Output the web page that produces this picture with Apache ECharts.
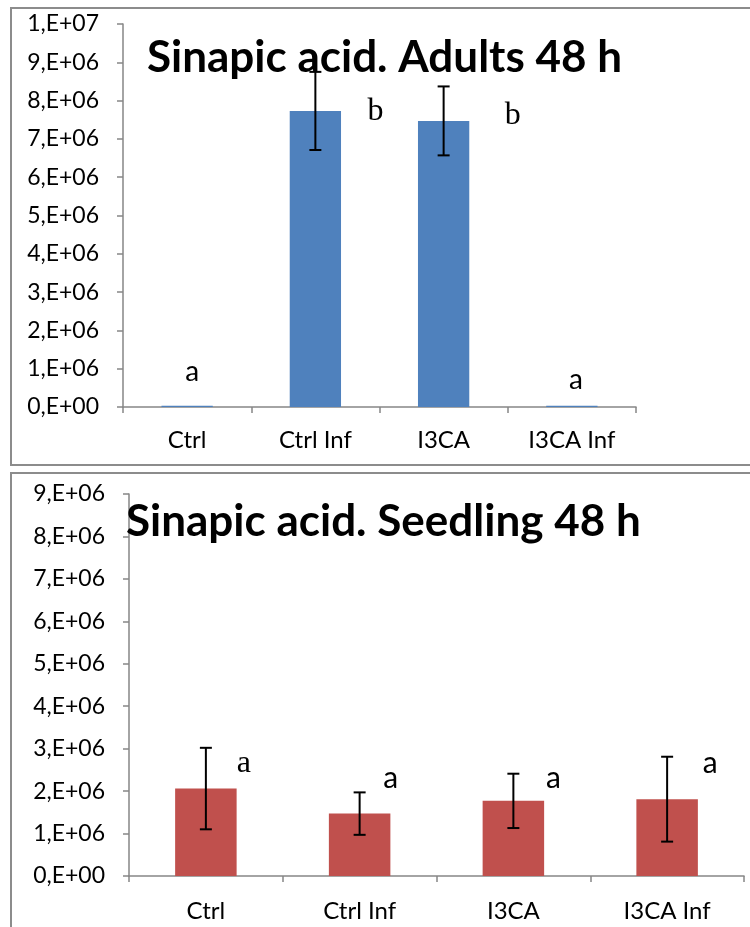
<!DOCTYPE html>
<html>
<head>
<meta charset="utf-8">
<script src="https://cdn.jsdelivr.net/npm/echarts@6/dist/echarts.min.js"></script>
<style>
  html, body { margin: 0; padding: 0; background: #fff; }
  #chart { width: 750px; height: 927px; }
</style>
</head>
<body>
<div id="chart"></div>
<script>
// data
const categories = ['Ctrl', 'Ctrl Inf', 'I3CA', 'I3CA Inf'];

const adultMeans = [30000, 7730000, 7470000, 30000];
const adultErr = [0, 1020000, 900000, 0];
const adultLetters = ['a', 'b', 'b', 'a'];
const adultLetterLevel = [910000, 7700000, 7600000, 700000];

const seedlingMeans = [2060000, 1470000, 1770000, 1810000];
const seedlingErr = [960000, 500000, 640000, 1000000];
const seedlingLetters = ['a', 'a', 'a', 'a'];
const seedlingLetterLevel = [2660000, 2300000, 2300000, 2660000];

const adultTicks = { max: 10000000, step: 1000000 };
const seedlingTicks = { max: 9000000, step: 1000000 };

const axisGray = '#868686';
const sansFont = 'Lato';
const serifFont = 'Liberation Serif';

function sciLabel(v) {
  if (v === 0) return '0,E+00';
  const e = Math.floor(Math.log10(v) + 1e-9);
  const m = Math.round(v / Math.pow(10, e));
  return m + ',E+' + String(e).padStart(2, '0');
}

function errorData(means, errs) {
  return means.map((m, i) => [i, m - errs[i], m + errs[i]]);
}

function letterData(levels) {
  return levels.map((y, i) => [i, y]);
}

function errorBarRender(params, api) {
  const lo = api.coord([api.value(0), api.value(1)]);
  const hi = api.coord([api.value(0), api.value(2)]);
  if (Math.abs(lo[1] - hi[1]) < 1) return null;
  const cap = 6;
  const style = { stroke: '#000', lineWidth: 2 };
  return {
    type: 'group',
    children: [
      { type: 'line', shape: { x1: hi[0], y1: hi[1], x2: lo[0], y2: lo[1] }, style },
      { type: 'line', shape: { x1: hi[0] - cap, y1: hi[1], x2: hi[0] + cap, y2: hi[1] }, style },
      { type: 'line', shape: { x1: lo[0] - cap, y1: lo[1], x2: lo[0] + cap, y2: lo[1] }, style }
    ]
  };
}

function letterRender(letters, dx, fonts, size) {
  return function (params, api) {
    const i = params.dataIndex;
    const p = api.coord([api.value(0), api.value(1)]);
    return {
      type: 'text',
      x: p[0] + dx[i],
      y: p[1],
      style: {
        text: letters[i],
        font: size[i] + 'px "' + fonts[i] + '"',
        fill: '#000',
        align: 'center',
        verticalAlign: 'middle'
      }
    };
  };
}

function yAxisCfg(gridIndex, ticks) {
  return {
    type: 'value',
    gridIndex,
    min: 0,
    max: ticks.max,
    interval: ticks.step,
    splitLine: { show: false },
    axisLine: { show: true, lineStyle: { color: axisGray, width: 1.5 } },
    axisTick: { show: true, length: 6, lineStyle: { color: axisGray, width: 1.5 } },
    axisLabel: {
      formatter: sciLabel,
      color: '#000',
      fontFamily: sansFont,
      fontSize: 23,
      margin: 24
    }
  };
}

function xAxisCfg(gridIndex, margin) {
  return {
    type: 'category',
    gridIndex,
    data: categories,
    axisLine: { show: true, lineStyle: { color: axisGray, width: 1.5 } },
    axisTick: { show: true, length: 6, lineStyle: { color: axisGray, width: 1.5 } },
    axisLabel: {
      color: '#000',
      fontFamily: sansFont,
      fontSize: 24,
      margin
    }
  };
}

const chart = echarts.init(document.getElementById('chart'));

chart.setOption({
  animation: false,
  graphic: [
    {
      type: 'rect',
      shape: { x: 11, y: 8, width: 760, height: 457 },
      style: { fill: 'none', stroke: '#8c8c8c', lineWidth: 2 },
      z: -1
    },
    {
      type: 'rect',
      shape: { x: 11, y: 473, width: 760, height: 480 },
      style: { fill: 'none', stroke: '#8c8c8c', lineWidth: 2 },
      z: -1
    },
    {
      type: 'text',
      x: 147,
      y: 58,
      style: {
        text: 'Sinapic acid. Adults 48 h',
        font: 'bold 44px "Lato"',
        fill: '#000',
        verticalAlign: 'middle'
      },
      z: 10
    },
    {
      type: 'text',
      x: 126,
      y: 522,
      style: {
        text: 'Sinapic acid. Seedling 48 h',
        font: 'bold 44px "Lato"',
        fill: '#000',
        verticalAlign: 'middle'
      },
      z: 10
    }
  ],
  grid: [
    { left: 123, top: 24, right: 114, bottom: 520 },
    { left: 129, top: 494, right: 6, bottom: 51 }
  ],
  xAxis: [xAxisCfg(0, 21), xAxisCfg(1, 23)],
  yAxis: [yAxisCfg(0, adultTicks), yAxisCfg(1, seedlingTicks)],
  series: [
    {
      type: 'bar',
      xAxisIndex: 0,
      yAxisIndex: 0,
      data: adultMeans,
      barWidth: '40%',
      itemStyle: { color: '#4F81BD' }
    },
    {
      type: 'custom',
      xAxisIndex: 0,
      yAxisIndex: 0,
      data: errorData(adultMeans, adultErr),
      renderItem: errorBarRender,
      z: 5
    },
    {
      type: 'custom',
      xAxisIndex: 0,
      yAxisIndex: 0,
      data: letterData(adultLetterLevel),
      renderItem: letterRender(adultLetters, [5, 60, 69, 4],
        [sansFont, serifFont, serifFont, sansFont], [28, 32, 32, 28]),
      z: 6
    },
    {
      type: 'bar',
      xAxisIndex: 1,
      yAxisIndex: 1,
      data: seedlingMeans,
      barWidth: '40%',
      itemStyle: { color: '#C0504D' }
    },
    {
      type: 'custom',
      xAxisIndex: 1,
      yAxisIndex: 1,
      data: errorData(seedlingMeans, seedlingErr),
      renderItem: errorBarRender,
      z: 5
    },
    {
      type: 'custom',
      xAxisIndex: 1,
      yAxisIndex: 1,
      data: letterData(seedlingLetterLevel),
      renderItem: letterRender(seedlingLetters, [38, 31, 40, 43],
        [serifFont, sansFont, sansFont, sansFont], [32, 30, 30, 30]),
      z: 6
    }
  ]
});
</script>
</body>
</html>
